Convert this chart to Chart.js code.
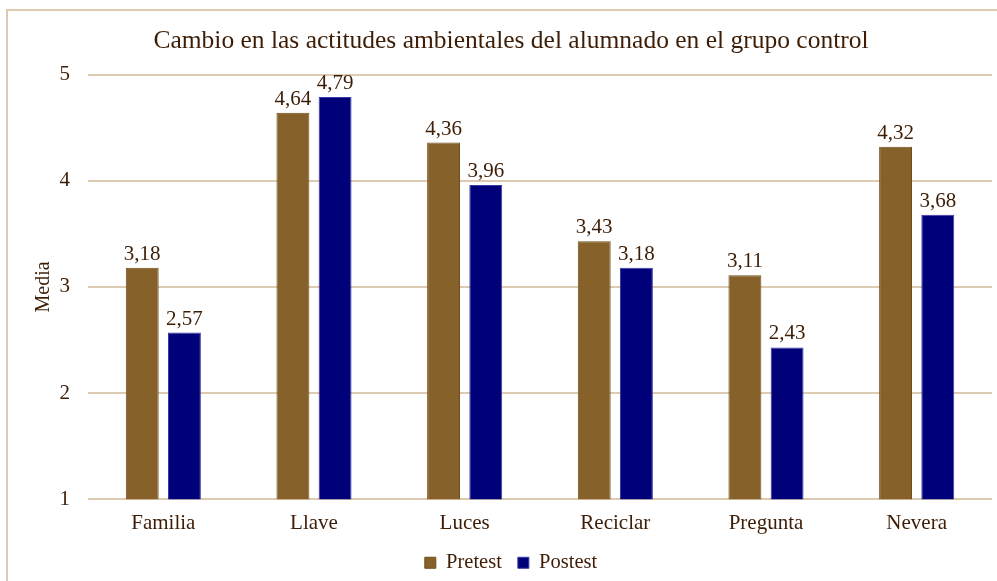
<!DOCTYPE html>
<html>
<head>
<meta charset="utf-8">
<script src="https://cdn.jsdelivr.net/npm/chart.js@4/dist/chart.umd.min.js"></script>
<style>
  body { margin: 0; background: #fff; }
  #wrap { position: relative; width: 997px; height: 581px; }
  #frame { position: absolute; left: 6px; top: 9px; right: 0; bottom: 0; border-top: 2px solid #dccbb0; border-left: 2px solid #dccbb0; }
  canvas { position: absolute; left: 0; top: 0; }
</style>
</head>
<body>
<div id="wrap">
  <div id="frame"></div>
  <canvas id="actitudes" width="997" height="581"></canvas>
</div>
<script>
const categories = ["Familia", "Llave", "Luces", "Reciclar", "Pregunta", "Nevera"];
const pretest = [3.18, 4.64, 4.36, 3.43, 3.11, 4.32];
const postest = [2.57, 4.79, 3.96, 3.18, 2.43, 3.68];
const yTicks = [1, 2, 3, 4, 5];

const textColor = "#3d1d05";
const gridColor = "#dccbb0";
const serif = "'Liberation Serif', 'Times New Roman', serif";

// value labels above the bars, decimal comma
const valueLabels = {
    id: "valueLabels",
    afterDatasetsDraw(chart) {
        const ctx = chart.ctx;
        ctx.save();
        ctx.font = "21px " + serif;
        ctx.fillStyle = textColor;
        ctx.textAlign = "center";
        ctx.textBaseline = "bottom";
        chart.data.datasets.forEach((ds, i) => {
            chart.getDatasetMeta(i).data.forEach((bar, j) => {
                ctx.fillText(ds.data[j].toFixed(2).replace(".", ","), bar.x, bar.y - 3);
            });
        });
        ctx.restore();
    }
};

new Chart(document.getElementById("actitudes"), {
    type: "bar",
    data: {
        labels: categories,
        datasets: [
            {
                label: "Pretest",
                data: pretest,
                backgroundColor: "#86622a",
                borderColor: "#6f4f1c",
                borderWidth: 1,
                categoryPercentage: 0.56,
                barPercentage: 0.78
            },
            {
                label: "Postest",
                data: postest,
                backgroundColor: "#000078",
                borderColor: "#3a3aa8",
                borderWidth: 1,
                categoryPercentage: 0.56,
                barPercentage: 0.78
            }
        ]
    },
    options: {
        responsive: false,
        animation: false,
        layout: { padding: { left: 30, right: 5, top: 10, bottom: -2 } },
        plugins: {
            title: {
                display: true,
                text: "Cambio en las actitudes ambientales del alumnado en el grupo control",
                color: textColor,
                font: { family: serif, size: 25.5, weight: "normal" },
                padding: { top: 16, bottom: 18 }
            },
            legend: {
                position: "bottom",
                labels: {
                    color: textColor,
                    font: { family: serif, size: 20.5 },
                    boxWidth: 11,
                    boxHeight: 11,
                    padding: 16
                }
            },
            tooltip: { enabled: false }
        },
        scales: {
            x: {
                grid: { display: false },
                border: { display: false },
                ticks: { color: textColor, font: { family: serif, size: 21 }, padding: 4 },
                afterFit(scale) { scale.height -= 4; }
            },
            y: {
                min: 1,
                max: 5,
                afterBuildTicks(scale) {
                    scale.ticks = yTicks.map(v => ({ value: v }));
                },
                afterFit(scale) { scale.width = 58; },
                grid: { color: gridColor, lineWidth: 2, drawTicks: false },
                border: { display: false },
                ticks: { color: textColor, font: { family: serif, size: 21 }, padding: 18 },
                title: {
                    display: true,
                    text: "Media",
                    color: textColor,
                    font: { family: serif, size: 20 },
                    padding: { top: 2, bottom: 0 }
                }
            }
        }
    },
    plugins: [valueLabels]
});
</script>
</body>
</html>
